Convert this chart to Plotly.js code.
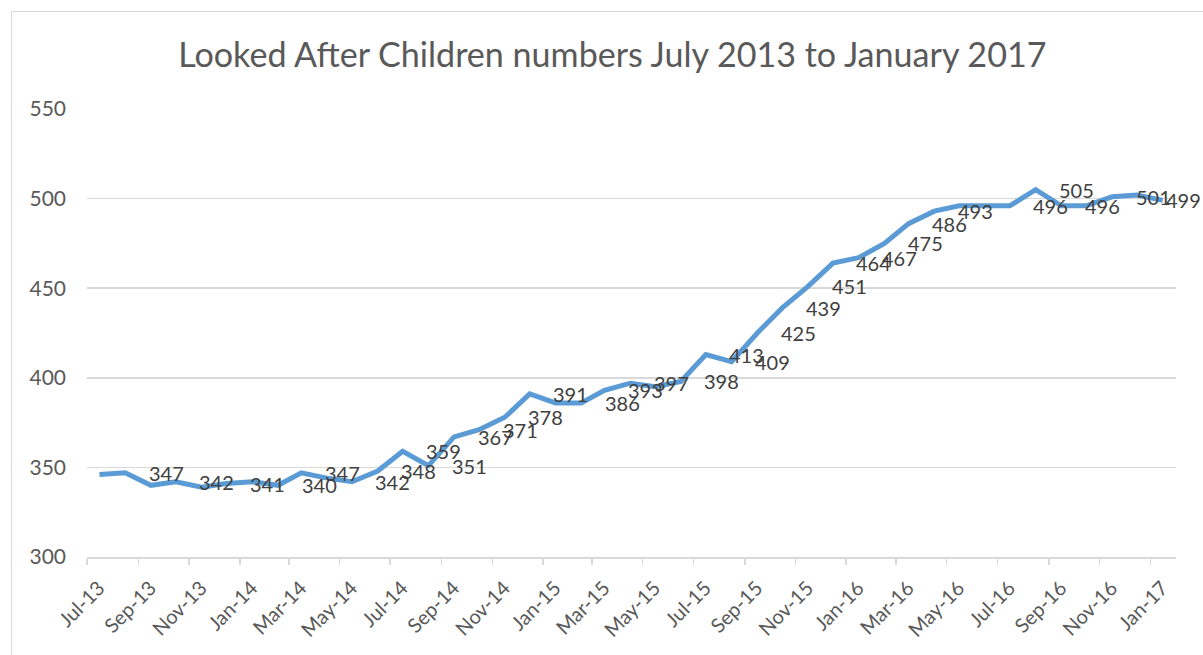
<!DOCTYPE html>
<html>
<head>
<meta charset="utf-8">
<script src="https://cdn.plot.ly/plotly-3.0.1.min.js"></script>
<style>
  html, body { margin: 0; padding: 0; background: #ffffff; }
  #chart { width: 1203px; height: 655px; }
  #frame { position: absolute; left: 11px; top: 11px; width: 1300px; height: 700px;
           border-left: 1px solid #d9d9d9; border-top: 1px solid #d9d9d9; pointer-events: none; }
</style>
</head>
<body>
<div id="chart"></div>
<div id="frame"></div>
<script>
// Monthly data points (mid-month) July 2013 – January 2017
const months = [
  '2013-07-16','2013-08-16','2013-09-16','2013-10-16','2013-11-16','2013-12-16',
  '2014-01-16','2014-02-16','2014-03-16','2014-04-16','2014-05-16','2014-06-16',
  '2014-07-16','2014-08-16','2014-09-16','2014-10-16','2014-11-16','2014-12-16',
  '2015-01-16','2015-02-16','2015-03-16','2015-04-16','2015-05-16','2015-06-16',
  '2015-07-16','2015-08-16','2015-09-16','2015-10-16','2015-11-16','2015-12-16',
  '2016-01-16','2016-02-16','2016-03-16','2016-04-16','2016-05-16','2016-06-16',
  '2016-07-16','2016-08-16','2016-09-16','2016-10-16','2016-11-16','2016-12-16',
  '2017-01-16'
];
const lacNumbers = [
  346, 347, 340, 342, 339, 341,
  342, 340, 347, 344, 342, 348,
  359, 351, 367, 371, 378, 391,
  386, 386, 393, 397, 395, 398,
  413, 409, 425, 439, 451, 464,
  467, 475, 486, 493, 496, 496,
  496, 505, 496, 496, 501, 502,
  499
];
// which points carry a data label in the original chart
const showLabel = [
  0, 1, 0, 1, 0, 1,
  0, 1, 1, 0, 1, 1,
  1, 1, 1, 1, 1, 1,
  0, 1, 1, 1, 0, 1,
  1, 1, 1, 1, 1, 1,
  1, 1, 1, 1, 0, 0,
  1, 1, 1, 0, 1, 0,
  1
];
const yTicks = [300, 350, 400, 450, 500, 550];
const titleText = 'Looked After Children numbers July 2013 to January 2017';

const FONT = 'Lato, "Open Sans", sans-serif';
const labelShift = 41;
const lastShift = 21;

const annotations = [];
months.forEach((m, i) => {
  if (!showLabel[i]) return;
  annotations.push({
    x: m, y: lacNumbers[i], xref: 'x', yref: 'y',
    text: String(lacNumbers[i]), showarrow: false,
    xanchor: 'center', yanchor: 'middle',
    xshift: i === months.length - 1 ? lastShift : labelShift,
    font: { family: FONT, size: 20, color: '#404040' }
  });
});

const trace = {
  type: 'scatter', mode: 'lines',
  x: months, y: lacNumbers,
  line: { color: '#5B9BD5', width: 5, shape: 'linear' },
  hoverinfo: 'x+y'
};

const layout = {
  width: 1203, height: 655,
  margin: { l: 87, r: 27, t: 109, b: 98 },
  paper_bgcolor: '#ffffff', plot_bgcolor: '#ffffff',
  showlegend: false,
  title: {
    text: titleText, x: 0.509, xanchor: 'center', y: 0.916, yanchor: 'middle',
    font: { family: FONT, size: 34.1, color: '#595959', weight: 400 }
  },
  xaxis: {
    type: 'date',
    range: ['2013-07-01', '2017-02-01'],
    tick0: '2013-07-01', dtick: 'M2',
    tickformat: '%b-%y',
    tickangle: -45,
    ticks: 'outside', ticklen: 6, tickcolor: '#d9d9d9', tickwidth: 1.5,
    ticklabelshift: 12, ticklabelstandoff: 4,
    showgrid: false, zeroline: false,
    showline: true, linecolor: '#d9d9d9', linewidth: 1.5,
    tickfont: { family: FONT, size: 20, color: '#595959' }
  },
  yaxis: {
    range: [300, 550],
    tickvals: yTicks,
    showgrid: true, gridcolor: '#d9d9d9', gridwidth: 1.5,
    zeroline: false, showline: false, ticks: '',
    ticklabelstandoff: 20,
    tickfont: { family: FONT, size: 21, color: '#595959' }
  },
  annotations: annotations
};

Plotly.newPlot('chart', [trace], layout, { displayModeBar: false, staticPlot: true });
</script>
</body>
</html>
